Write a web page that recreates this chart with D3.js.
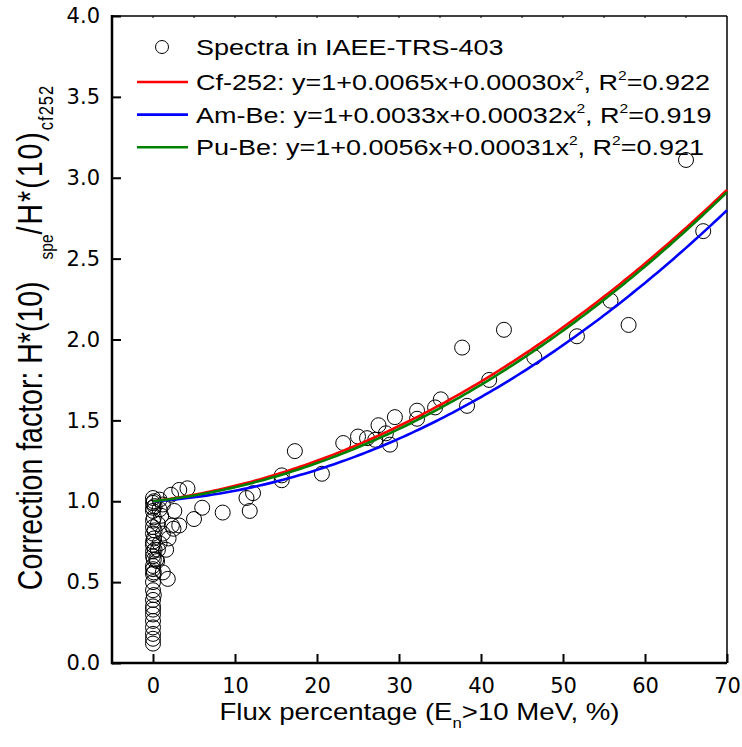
<!DOCTYPE html>
<html>
<head>
<meta charset="utf-8">
<script src="https://cdn.jsdelivr.net/npm/d3@7"></script>
<style>
  body { margin: 0; background: #fff; }
  text { font-family: "Liberation Sans", Arial, sans-serif; fill: #000; }
</style>
</head>
<body>
<div id="chart"></div>
<script>
// spectra points (flux % above 10 MeV, correction factor)
var specX = [65.0, 67.1, 55.8, 58.0, 51.7, 46.5, 42.8, 37.7, 41.0, 38.3, 35.1, 34.4, 32.2, 32.2, 29.5,
  27.5, 28.4, 27.1, 26.1, 25.0, 28.9, 23.2, 17.3, 20.6, 15.7, 15.7, 12.2, 11.4, 11.8, 8.5,
  6.0, 5.0, 4.2, 3.2, 2.2, 2.6, 3.2, 2.3, 2.5, 1.9, 1.6, 0.5, 1.8, 1.2, 0.8,
  1.2, 0.6, 0.4, 0.8, 1.2, 1.0, 0.6, 0.8,
  0, 0.1, 0, 0.2, 0, 0, 0.1, 0, 0, 0.2, 0, 0.1, 0, 0, 0.2, 0,
  0, 0.1, 0, 0, 0.1, 0, 0, 0, 0.1, 0, 0, 0, 0, 0, 0, 0,
  0, 0];
var specY = [3.11, 2.67, 2.24, 2.09, 2.02, 1.89, 2.06, 1.95, 1.75, 1.59, 1.63, 1.58, 1.56, 1.51, 1.52,
  1.47, 1.42, 1.38, 1.39, 1.40, 1.35, 1.36, 1.31, 1.17, 1.16, 1.13, 1.05, 1.02, 0.94, 0.93,
  0.96, 0.89, 1.08, 1.07, 1.04, 0.94, 0.85, 0.85, 0.83, 0.77, 0.70, 0.63, 0.52, 0.56, 0.95,
  0.80, 0.70, 0.64, 1.01, 0.98, 0.91, 0.86, 0.74,
  1.02, 1.00, 0.99, 0.97, 0.96, 0.94, 0.90, 0.88, 0.84, 0.82, 0.80, 0.77, 0.75, 0.73, 0.70, 0.69,
  0.66, 0.64, 0.60, 0.58, 0.56, 0.55, 0.50, 0.45, 0.42, 0.39, 0.35, 0.33, 0.30, 0.26, 0.22, 0.18,
  0.15, 0.12];

// quadratic fits y = 1 + b*x + c*x^2
var fitNames = ["Cf-252", "Am-Be", "Pu-Be"];
var fitB = [0.0065, 0.0033, 0.0056];
var fitC = [0.00030, 0.00032, 0.00031];
var fitR2 = ["0.922", "0.919", "0.921"];
var fitColors = ["#ff0000", "#0000ff", "#008000"];

var xTicks = [0, 10, 20, 30, 40, 50, 60, 70];
var yTicks = [0, 0.5, 1, 1.5, 2, 2.5, 3, 3.5, 4];

var svgWidth = 742, svgHeight = 747;
var margin = { top: 16, right: 15, bottom: 84, left: 112 };
var width = svgWidth - margin.left - margin.right;
var height = svgHeight - margin.top - margin.bottom;
var stretch = 1.2;   // text in the picture is drawn wide

var svg = d3.select("#chart").append("svg")
  .attr("width", svgWidth)
  .attr("height", svgHeight);
var g = svg.append("g")
  .attr("transform", "translate(" + margin.left + "," + margin.top + ")");

var x = d3.scaleLinear().domain([-5, 70]).range([0, width]);
var y = d3.scaleLinear().domain([0, 4]).range([height, 0]);

// frame: thin top/right
g.append("line").attr("x1", 0).attr("x2", width).attr("y1", 0).attr("y2", 0)
  .attr("stroke", "#000").attr("stroke-width", 1.5);
g.append("line").attr("x1", width).attr("x2", width).attr("y1", 0).attr("y2", height)
  .attr("stroke", "#000").attr("stroke-width", 1.5);

// small ticks on top every 5
g.selectAll(".ttick").data(d3.range(0, 70, 5)).enter().append("line")
  .attr("x1", function(d) { return x(d); }).attr("x2", function(d) { return x(d); })
  .attr("y1", 0).attr("y2", 2).attr("stroke", "#000").attr("stroke-width", 1);

// axes with inward ticks
var xAxis = d3.axisBottom(x).tickValues(xTicks).tickSize(-9).tickPadding(20)
  .tickFormat(d3.format("d"));
var gx = g.append("g").attr("transform", "translate(0," + height + ")").call(xAxis);
var yAxis = d3.axisLeft(y).tickValues(yTicks).tickSize(-9).tickPadding(12)
  .tickFormat(d3.format(".1f"));
var gy = g.append("g").call(yAxis);

[gx, gy].forEach(function(a) {
  a.select(".domain").remove();
  a.selectAll(".tick line").attr("stroke", "#000").attr("stroke-width", 2);
  a.selectAll(".tick text").attr("font-size", 21).attr("fill", "#000")
    .style("font-family", "'DejaVu Sans', Verdana, sans-serif");
});
gx.selectAll(".tick text").attr("dy", "0.36em").attr("y", 22);

g.append("line").attr("x1", 0).attr("x2", width).attr("y1", height).attr("y2", height)
  .attr("stroke", "#000").attr("stroke-width", 2.5);
g.append("line").attr("x1", 0).attr("x2", 0).attr("y1", -1).attr("y2", height + 1.2)
  .attr("stroke", "#000").attr("stroke-width", 2.5);

// points
var pts = specX.map(function(v, i) { return { x: v, y: specY[i] }; });
g.selectAll(".pt").data(pts).enter().append("circle")
  .attr("cx", function(d) { return x(d.x); })
  .attr("cy", function(d) { return y(d.y); })
  .attr("r", 7.5)
  .attr("fill", "none")
  .attr("stroke", "#000")
  .attr("stroke-width", 1);

// fit curves
var xs = d3.range(0, 70.01, 0.5);
var line = d3.line().x(function(d) { return x(d[0]); }).y(function(d) { return y(d[1]); });
[0, 1, 2].forEach(function(k) {
  var curve = xs.map(function(v) { return [v, 1 + fitB[k] * v + fitC[k] * v * v]; });
  g.append("path").datum(curve)
    .attr("d", line)
    .attr("fill", "none")
    .attr("stroke", fitColors[k])
    .attr("stroke-width", 2.6);
});

// legend
var lg = svg.append("g");
var legFont = 22.5;
lg.append("circle").attr("cx", 162).attr("cy", 47).attr("r", 6.5)
  .attr("fill", "none").attr("stroke", "#000").attr("stroke-width", 1);
lg.append("text").attr("transform", "translate(196,55) scale(" + stretch + ",1)")
  .attr("font-size", legFont)
  .text("Spectra in IAEE-TRS-403");
fitNames.forEach(function(n, k) {
  var cy = 82 + k * 32.6;
  lg.append("line").attr("x1", 137).attr("x2", 188).attr("y1", cy).attr("y2", cy)
    .attr("stroke", fitColors[k]).attr("stroke-width", 2.6);
  var t = lg.append("text")
    .attr("transform", "translate(196," + (cy + 8) + ") scale(" + stretch + ",1)")
    .attr("font-size", legFont);
  t.append("tspan").text(n + ": y=1+" + fitB[k].toFixed(4) + "x+" + fitC[k].toFixed(5) + "x");
  t.append("tspan").attr("font-size", 13).attr("dy", -10).text("2");
  t.append("tspan").attr("dy", 10).text(", R");
  t.append("tspan").attr("font-size", 13).attr("dy", -10).text("2");
  t.append("tspan").attr("dy", 10).text("=" + fitR2[k]);
});

// axis titles
var xt = svg.append("text")
  .attr("transform", "translate(" + (margin.left + x(32.5)) + ",720) scale(" + stretch + ",1)")
  .attr("text-anchor", "middle").attr("font-size", 23);
xt.append("tspan").text("Flux percentage (E");
xt.append("tspan").attr("font-size", 14).attr("dy", 8).text("n");
xt.append("tspan").attr("dy", -8).text(">10 MeV, %)");

var yt = svg.append("text")
  .attr("transform", "translate(42," + (margin.top + height / 2 - 2) + ") scale(" + stretch + ",1) rotate(-90)")
  .attr("text-anchor", "middle").attr("font-size", 28.5);
yt.append("tspan").text("Correction factor: H*(10)");
yt.append("tspan").attr("font-size", 15.5).attr("dy", 9).attr("dx", 22).text("spe");
yt.append("tspan").attr("dy", -9).attr("letter-spacing", 2).text("/H*(10)");
yt.append("tspan").attr("font-size", 16.5).attr("dy", 9).attr("letter-spacing", 1).text("cf252");
</script>
</body>
</html>
